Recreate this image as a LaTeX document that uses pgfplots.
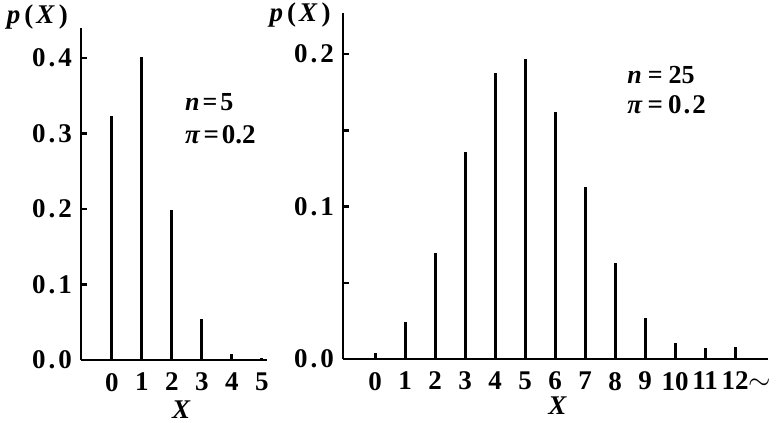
\documentclass[border=0pt]{standalone}
\usepackage{fontspec}
\setmainfont{Liberation Serif}
\usepackage{pgfplots}
\pgfplotsset{compat=1.18}
\newcommand{\sm}{\fontsize{13}{15}\selectfont}
\pgfplotsset{
  mystyle/.style={
    scale only axis,
    axis lines=left,
    axis line style={-, line width=1.4pt},
    tick align=inside,
    major tick length=3pt,
    minor tick length=3pt,
    ytick style={line width=1.2pt, black},
    xtick style={draw=none},
    ymin=0,
    clip=false,
    xticklabel style={yshift=-3pt},
    yticklabel style={xshift=-1pt},
  }
}
\begin{document}
\begin{tikzpicture}[font=\fontsize{13.5}{16}\selectfont\bfseries]
\useasboundingbox (0pt,0pt) rectangle (391.5pt,-211.5pt);
% Left panel: n=5
\begin{axis}[mystyle,
  at={(40.5pt,-180pt)}, anchor=south west,
  width=93pt, height=166pt,
  xmin=-1.03, xmax=5.17, ymax=0.44,
  xtick={0,1,2,3,4,5},
  xticklabels={0,1,2,3,4,5},
  ytick={0,0.1,0.2,0.3,0.4},
  yticklabels={0\kern1.5pt.\kern1.5pt0,0\kern1.5pt.\kern1.5pt1,0\kern1.5pt.\kern1.5pt2,0\kern1.5pt.\kern1.5pt3,0\kern1.5pt.\kern1.5pt4},
  xlabel={\textit{X}},
  ylabel={\textit{p}\kern2pt(\kern1.5pt\textit{X}\kern2pt)},
  every axis x label/.style={at={(axis description cs:0.54,-0.15)}, anchor=center},
  every axis y label/.style={at={(axis description cs:-0.235,1.033)}, anchor=center},
]
\addplot[ycomb, line width=1.5pt, mark=none, black] coordinates {
  (0,0.323) (1,0.401) (2,0.199) (3,0.055) (4,0.008) (5,0.002)
};
\node[anchor=base west, inner sep=0pt] at (axis cs:2.43,0.331)
  {\sm\textit{n}\kern1.5pt=\kern1.5pt5};
\node[anchor=base west, inner sep=0pt] at (axis cs:2.43,0.287)
  {\textit{π}\kern1.5pt=\kern1.5pt0.2};
\end{axis}
% Right panel: n=25
\begin{axis}[mystyle,
  at={(171.5pt,-179.5pt)}, anchor=south west,
  width=212.5pt, height=173pt,
  xmin=-1.07, xmax=13.1, ymax=0.227,
  xtick={0,1,2,3,4,5,6,7,8,9,10,11,12},
  xticklabels={0,1,2,3,4,5,6,7,8,9,10,11,12\rlap{$\sim$}},
  ytick={0,0.1,0.2},
  minor ytick={0.05,0.15},
  yticklabels={0\kern1.5pt.\kern1.5pt0,0\kern1.5pt.\kern1.5pt1,0\kern1.5pt.\kern1.5pt2},
  xlabel={\textit{X}},
  ylabel={\textit{p}\kern2pt(\kern1.5pt\textit{X}\kern2pt)},
  every axis x label/.style={at={(axis description cs:0.505,-0.135)}, anchor=center},
  every axis y label/.style={at={(axis description cs:-0.101,0.994)}, anchor=center},
]
\addplot[ycomb, line width=1.5pt, mark=none, black] coordinates {
  (0,0.004) (1,0.024) (2,0.0695) (3,0.136) (4,0.1875) (5,0.197)
  (6,0.162) (7,0.113) (8,0.063) (9,0.027) (10,0.0105) (11,0.007) (12,0.008)
};
\node[anchor=base west, inner sep=0pt] at (axis cs:8.4,0.181)
  {\sm\textit{n}\kern3pt=\kern3pt25};
\node[anchor=base west, inner sep=0pt] at (axis cs:8.4,0.161)
  {\textit{π}\kern2.5pt=\kern2.5pt0\kern1pt.\kern1pt2};
\end{axis}
\end{tikzpicture}
\end{document}
